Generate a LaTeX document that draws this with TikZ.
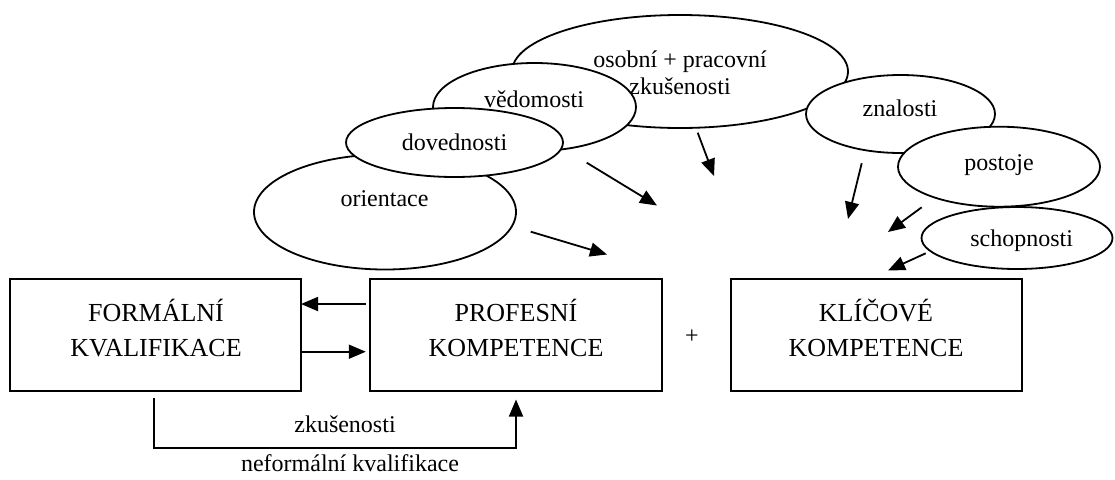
\documentclass[tikz,border=0pt]{standalone}
\usepackage{fontspec}
\setmainfont{Liberation Serif}
\usetikzlibrary{shapes.geometric,arrows.meta}
\begin{document}
\begin{tikzpicture}[x=1pt,y=-1pt,
  every node/.style={inner sep=0pt,outer sep=0pt},
  bx/.style={draw,line width=2pt,minimum height=112pt},
  ell/.style={ellipse,draw,fill=white,line width=1.8pt},
  lab/.style={font=\fontsize{24}{27}\selectfont,align=center},
  btxt/.style={font=\fontsize{26}{35}\selectfont,align=center},
  arr/.style={line width=1.8pt,-{Triangle[length=17pt,width=14pt]}},
  conn/.style={line width=1.8pt}]
\useasboundingbox (0,0) rectangle (1115,479);

% boxes
\node[bx,minimum width=291pt] (fk) at (155.5,335) {};
\node[bx,minimum width=292pt] (pk) at (515.8,335) {};
\node[bx,minimum width=291pt] (kk) at (876.3,335) {};
\node[btxt] (fkt) at (156,328) {FORMÁLNÍ\\KVALIFIKACE};
\node[btxt] (pkt) at (516,328) {PROFESNÍ\\KOMPETENCE};
\node[btxt] (kkt) at (876,328) {KLÍČOVÉ\\KOMPETENCE};
\node[font=\fontsize{24}{27}\selectfont] (plus) at (692,337) {+};

% ellipses (left group)
\node[ell,minimum width=336pt,minimum height=113pt] (osob) at (680,71.5) {};
\node[ell,minimum width=203pt,minimum height=88pt] (ved) at (534.5,107) {};
\node[ell,minimum width=262pt,minimum height=115pt] (ori) at (385,212) {};
\node[ell,minimum width=217pt,minimum height=69pt] (dov) at (454.5,142.5) {};
% ellipses (right group)
\node[ell,minimum width=189pt,minimum height=78pt] (zna) at (900.5,114) {};
\node[ell,minimum width=202pt,minimum height=80pt] (pos) at (999,166.7) {};
\node[ell,minimum width=191pt,minimum height=62pt] (sch) at (1017,238) {};

% ellipse texts
\node[lab] (osobt) at (680,73) {osobní + pracovní\\zkušenosti};
\node[lab,anchor=base] (vedt) at (534,107) {vědomosti};
\node[lab,anchor=base] (dovt) at (454.5,150) {dovednosti};
\node[lab,anchor=base] (orit) at (384.5,206.7) {orientace};
\node[lab,anchor=base] (znat) at (900,116.7) {znalosti};
\node[lab,anchor=base] (post) at (999,170) {postoje};
\node[lab,anchor=base] (scht) at (1021.7,246.7) {schopnosti};

% arrow end points
\coordinate (a1s) at (586.7,162.7); \coordinate (a1e) at (657,205.5);
\coordinate (a2s) at (530.7,231.7); \coordinate (a2e) at (607,254.5);
\coordinate (a3s) at (697.7,132.7); \coordinate (a3e) at (714,176);
\coordinate (a4s) at (861.7,163.3); \coordinate (a4e) at (848,219);
\coordinate (a5s) at (921.7,207.3); \coordinate (a5e) at (888,232);
\coordinate (a6s) at (925.7,253.3); \coordinate (a6e) at (888,270.5);
\draw[arr] (a1s) -- (a1e);
\draw[arr] (a2s) -- (a2e);
\draw[arr] (a3s) -- (a3e);
\draw[arr] (a4s) -- (a4e);
\draw[arr] (a5s) -- (a5e);
\draw[arr] (a6s) -- (a6e);

% arrows between boxes
\draw[arr] ([xshift=-4pt,yshift=31pt]pk.west) -- ([yshift=31pt]fk.east);
\draw[arr] ([yshift=-16.7pt]fk.east) -- ([xshift=-4pt,yshift=-16.7pt]pk.west);

% bottom connector
\coordinate (b1) at (154,398);
\coordinate (b2) at (154,448);
\coordinate (b3) at (516,448);
\coordinate (b4) at (516,399.5);
\coordinate (b5) at (183,448);
\draw[arr] (b1) -- (b2) -- (b3) -- (b4);
\draw[line width=2.6pt] (b2) -- (b5);
\node[lab,anchor=base] (zk) at (345,432) {zkušenosti};
\node[lab,anchor=base] (nk) at (350,471) {neformální kvalifikace};
\end{tikzpicture}
\end{document}
